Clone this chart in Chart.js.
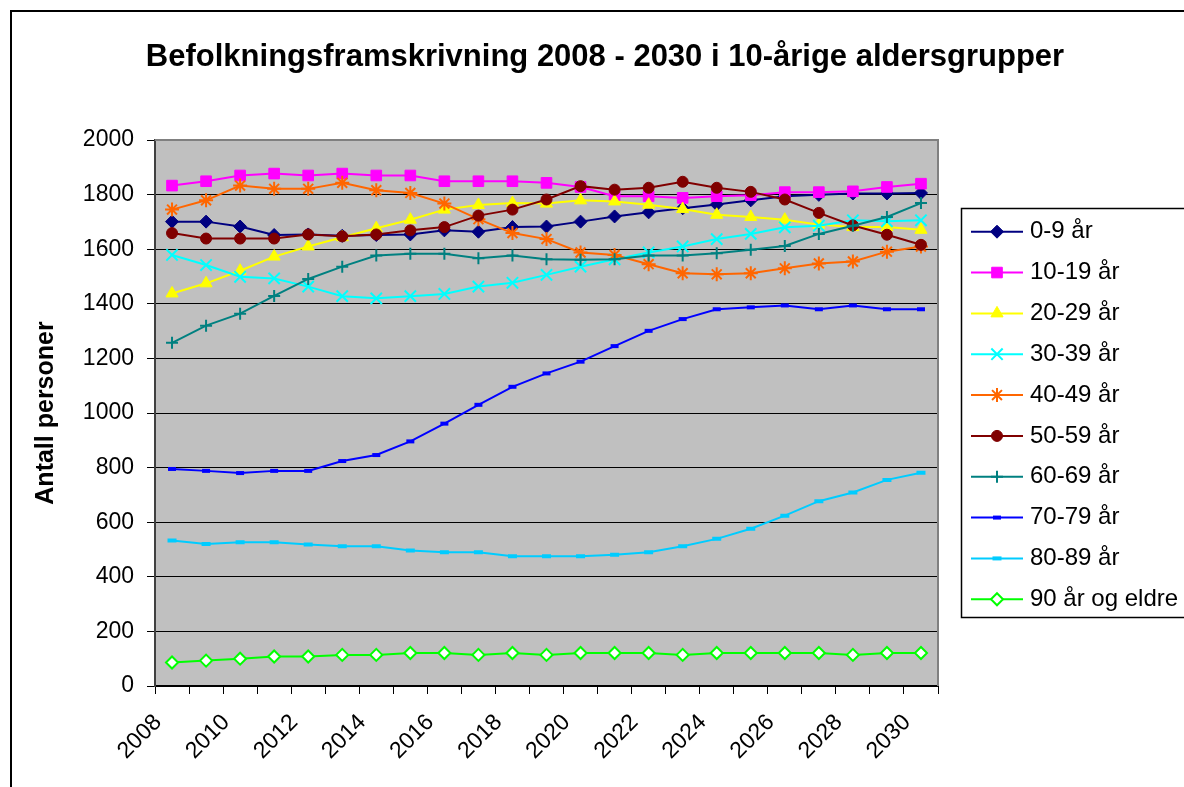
<!DOCTYPE html>
<html><head><meta charset="utf-8">
<script src="https://cdn.jsdelivr.net/npm/chart.js@4.4.1/dist/chart.umd.min.js"></script>
<style>html,body{margin:0;padding:0;background:#fff;overflow:hidden}canvas{display:block}</style>
</head><body>
<canvas id="c" width="1184" height="787"></canvas>
<script>
const chartTitle = 'Befolkningsframskrivning 2008 - 2030 i 10-årige aldersgrupper';
const yTitle = 'Antall personer';
const years = ['2008','2009','2010','2011','2012','2013','2014','2015','2016','2017','2018','2019','2020','2021','2022','2023','2024','2025','2026','2027','2028','2029','2030'];
const seriesNames = ['0-9 år','10-19 år','20-29 år','30-39 år','40-49 år','50-59 år','60-69 år','70-79 år','80-89 år','90 år og eldre'];
const age0_9   = [1701,1701,1683,1652,1654,1649,1652,1654,1669,1664,1681,1683,1701,1720,1735,1750,1764,1779,1794,1799,1804,1804,1806];
const age10_19 = [1833,1849,1870,1877,1870,1877,1870,1870,1849,1849,1849,1843,1828,1794,1794,1788,1794,1798,1809,1809,1812,1828,1840];
const age20_29 = [1438,1475,1521,1573,1610,1644,1677,1708,1745,1762,1769,1767,1779,1775,1763,1747,1726,1718,1708,1690,1681,1681,1671];
const age30_39 = [1579,1542,1499,1493,1463,1428,1420,1428,1436,1463,1477,1506,1536,1563,1588,1610,1637,1656,1680,1686,1706,1702,1706];
const age40_49 = [1745,1779,1833,1821,1821,1843,1816,1806,1767,1710,1659,1637,1588,1579,1545,1512,1508,1512,1530,1548,1555,1591,1610];
const age50_59 = [1659,1639,1639,1639,1654,1647,1654,1669,1681,1723,1745,1782,1831,1818,1825,1847,1825,1810,1782,1733,1687,1653,1616];
const age60_69 = [1257,1320,1364,1429,1491,1536,1577,1583,1583,1567,1577,1563,1561,1563,1577,1577,1585,1598,1612,1656,1686,1718,1769];
const age70_79 = [795,788,780,788,788,824,846,896,961,1030,1096,1145,1188,1245,1301,1344,1380,1387,1394,1380,1394,1380,1380];
const age80_89 = [533,520,527,527,518,512,512,496,490,490,475,475,475,481,490,512,539,576,624,677,709,755,781];
const age90    = [86,93,100,108,108,114,114,121,121,114,121,114,121,121,121,114,121,121,121,121,114,121,121];

const FONT = "'Liberation Sans', Arial, Helvetica, sans-serif";

function ds(i, data, color, style, radius, pbw, bg) {
  return {
    label: seriesNames[i], data: data,
    borderColor: color, borderWidth: 2,
    pointStyle: style, pointRadius: radius, pointBorderWidth: pbw,
    pointBackgroundColor: bg || color, pointBorderColor: color,
    tension: 0, order: 20 - i
  };
}

const datasets = [
  ds(0, age0_9,   '#000080', 'rectRot', 6.5, 1),
  ds(1, age10_19, '#FF00FF', 'rect', 7.5, 1),
  ds(2, age20_29, '#FFFF00', 'triangle', 7, 1),
  ds(3, age30_39, '#00FFFF', 'crossRot', 8, 2),
  ds(4, age40_49, '#FF6600', 'star', 7, 2),
  ds(5, age50_59, '#800000', 'circle', 5.5, 1),
  ds(6, age60_69, '#008080', 'cross', 6, 2),
  ds(7, age70_79, '#0000FF', 'line', 4, 4),
  ds(8, age80_89, '#00CCFF', 'line', 4.5, 4),
  ds(9, age90,    '#00FF00', 'rectRot', 6, 2, '#FFFFFF')
];

const framePlugin = {
  id: 'frame',
  beforeDraw(chart) {
    const {ctx, chartArea: a} = chart;
    ctx.save();
    ctx.fillStyle = '#FFFFFF';
    ctx.fillRect(0, 0, chart.width, chart.height);
    ctx.strokeStyle = '#000'; ctx.lineWidth = 2;
    ctx.beginPath(); ctx.moveTo(11, 800); ctx.lineTo(11, 11); ctx.lineTo(1200, 11); ctx.stroke();
    ctx.fillStyle = '#C0C0C0';
    ctx.fillRect(a.left, a.top, a.right - a.left, a.bottom - a.top);
    ctx.fillStyle = '#000';
    ctx.font = 'bold 31px ' + FONT;
    ctx.textAlign = 'center'; ctx.textBaseline = 'middle';
    ctx.fillText(chartTitle, 605, 57);
    ctx.translate(46, (a.top + a.bottom) / 2);
    ctx.rotate(-Math.PI / 2);
    ctx.font = 'bold 25px ' + FONT;
    ctx.fillText(yTitle, 0, 0);
    ctx.restore();
  },
  beforeDatasetsDraw(chart) {
    const {ctx, chartArea: a} = chart;
    ctx.save();
    ctx.strokeStyle = '#808080'; ctx.lineWidth = 2;
    ctx.beginPath(); ctx.moveTo(a.left, a.top); ctx.lineTo(a.right, a.top); ctx.lineTo(a.right, a.bottom); ctx.stroke();
    ctx.restore();
  },
  afterDraw(chart) {
    const ctx = chart.ctx;
    ctx.save();
    ctx.fillStyle = '#FFFFFF';
    ctx.fillRect(961, 208, 240, 410);
    ctx.strokeStyle = '#000'; ctx.lineWidth = 1.5;
    ctx.strokeRect(961.5, 208.5, 260, 409);
    chart.data.datasets.forEach((d, i) => {
      const y = 231.7 + i * 40.84;
      ctx.strokeStyle = d.borderColor; ctx.lineWidth = 2;
      ctx.beginPath(); ctx.moveTo(971, y); ctx.lineTo(1023, y); ctx.stroke();
      ctx.fillStyle = d.pointBackgroundColor; ctx.strokeStyle = d.pointBorderColor; ctx.lineWidth = d.pointBorderWidth;
      Chart.helpers.drawPoint(ctx, {pointStyle: d.pointStyle, radius: d.pointRadius, borderWidth: d.pointBorderWidth, rotation: 0}, 997, y);
      ctx.fillStyle = '#000'; ctx.font = '24px ' + FONT;
      ctx.textAlign = 'left'; ctx.textBaseline = 'middle';
      ctx.fillText(d.label, 1030, y);
    });
    ctx.restore();
  }
};

new Chart(document.getElementById('c'), {
  type: 'line',
  data: { labels: years, datasets: datasets },
  options: {
    responsive: false, animation: false,
    layout: { padding: { left: 12, top: 140, right: 246, bottom: 0 } },
    plugins: { legend: { display: false }, title: { display: false }, tooltip: { enabled: false } },
    scales: {
      x: {
        offset: true,
        grid: { drawOnChartArea: false, offset: true, tickLength: 8, color: '#000', lineWidth: 1 },
        border: { color: '#000', width: 2 },
        ticks: { autoSkip: false, maxRotation: 45, minRotation: 45, padding: 15, labelOffset: -14, color: '#000',
                 font: { family: FONT, size: 23 },
                 callback: (v, i) => (i % 2 === 0 ? years[i] : '') },
        afterFit: s => { s.height = 101; }
      },
      y: {
        min: 0, max: 2000,
        ticks: { stepSize: 200, padding: 13, color: '#000', font: { family: FONT, size: 23 },
                 callback: v => String(v) },
        grid: { color: '#000', lineWidth: 1, tickLength: 8 },
        border: { color: '#404040', width: 2 },
        afterFit: s => { s.width = 143; }
      }
    }
  },
  plugins: [framePlugin]
});
</script>
</body></html>
